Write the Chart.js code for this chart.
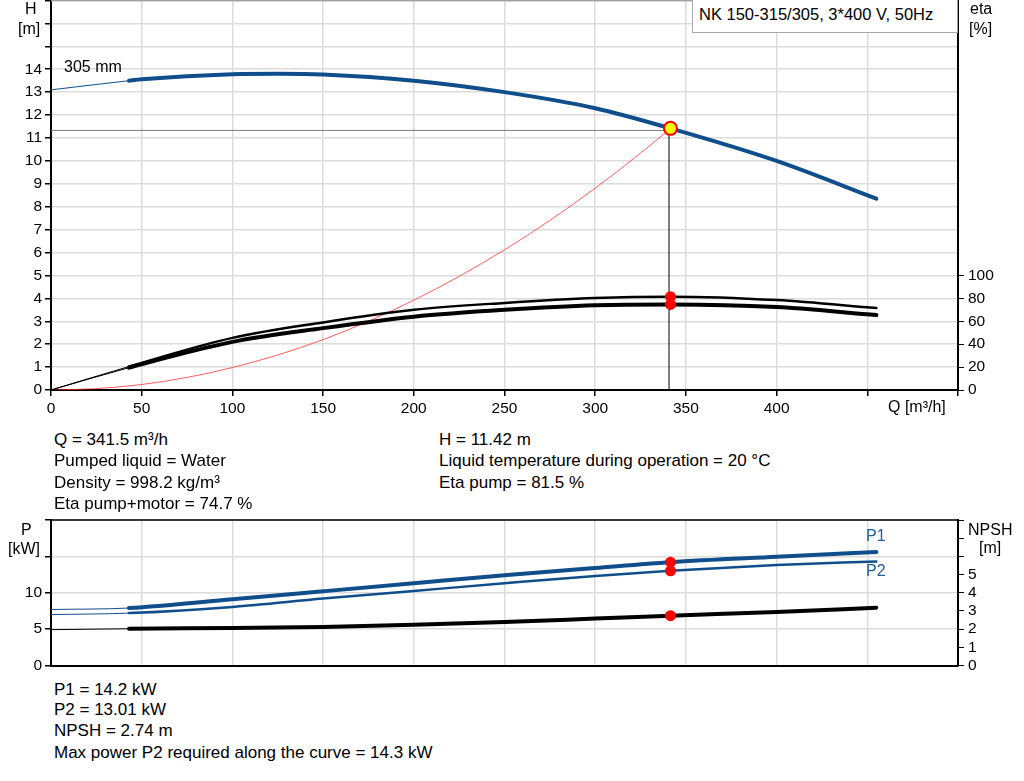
<!DOCTYPE html>
<html>
<head>
<meta charset="utf-8">
<script src="https://cdn.jsdelivr.net/npm/chart.js@4.4.1/dist/chart.umd.min.js"></script>
<style>
  body { margin: 0; background: #fff; font-family: "Liberation Sans", Arial, sans-serif; }
  #wrap { position: relative; width: 1024px; height: 781px; overflow: hidden; }
  canvas { position: absolute; left: 0; }
  .t16 { position: absolute; font-size: 16px; line-height: 16px; white-space: nowrap; color: #000; }
  .t17 { position: absolute; font-size: 17px; line-height: 17px; white-space: nowrap; color: #000; }
  #title { position: absolute; left: 692px; top: -2px; width: 264px; height: 33px;
           border: 1.5px solid #a8a8a8; background: #fff; }
</style>
</head>
<body>
<div id="wrap">
  <canvas id="qhChart" width="1024" height="433" style="top:-8px"></canvas>
  <canvas id="powerChart" width="1024" height="162" style="top:510px"></canvas>

  <div id="title"><span class="t16" style="left:6px;top:7px;font-size:16.5px">NK 150-315/305, 3*400 V, 50Hz</span></div>

  <div class="t16" style="left:25px;top:1px">H</div>
  <div class="t16" style="left:18px;top:21px">[m]</div>
  <div class="t16" style="left:970px;top:1px">eta</div>
  <div class="t16" style="left:969px;top:21px">[%]</div>
  <div class="t16" style="left:64px;top:59px">305 mm</div>
  <div class="t16" style="left:888px;top:399px">Q [m³/h]</div>

  <div class="t17" style="left:54px;top:431px">Q = 341.5 m³/h</div>
  <div class="t17" style="left:54px;top:452px">Pumped liquid = Water</div>
  <div class="t17" style="left:54px;top:474px">Density = 998.2 kg/m³</div>
  <div class="t17" style="left:54px;top:495px">Eta pump+motor = 74.7 %</div>
  <div class="t17" style="left:439px;top:431px">H = 11.42 m</div>
  <div class="t17" style="left:439px;top:452px">Liquid temperature during operation = 20 °C</div>
  <div class="t17" style="left:439px;top:474px">Eta pump = 81.5 %</div>

  <div class="t16" style="left:21px;top:522px">P</div>
  <div class="t16" style="left:8px;top:541px">[kW]</div>
  <div class="t16" style="left:968px;top:522px">NPSH</div>
  <div class="t16" style="left:979px;top:540px">[m]</div>
  <div class="t16" style="left:866px;top:528px;color:#1f5c99">P1</div>
  <div class="t16" style="left:866px;top:563px;color:#1f5c99">P2</div>

  <div class="t17" style="left:54px;top:681px">P1 = 14.2 kW</div>
  <div class="t17" style="left:54px;top:701px">P2 = 13.01 kW</div>
  <div class="t17" style="left:54px;top:722px">NPSH = 2.74 m</div>
  <div class="t17" style="left:54px;top:744px">Max power P2 required along the curve = 14.3 kW</div>
</div>

<script>
// flow values (m3/h) and the curves read from the sheet
const flowH = [0, 43, 50, 100, 125, 150, 200, 250, 300, 341.5, 400, 455];
const headVals = [13.1, 13.5, 13.56, 13.78, 13.8, 13.77, 13.5, 13.0, 12.3, 11.42, 10.0, 8.35];

const flowEta = [0, 43, 100, 150, 200, 250, 300, 341.5, 400, 455];
const etaPump = [0, 20.5, 45.5, 59, 70, 76, 80.3, 81.5, 78.5, 71.5];
const etaPumpMotor = [0, 19.5, 42, 54, 64, 70, 74, 74.7, 72.4, 65.4];

const flowSys = [0, 25, 50, 75, 100, 125, 150, 175, 200, 225, 250, 275, 300, 325, 341.5];
const sysHead = [0, 0.06, 0.24, 0.55, 0.98, 1.53, 2.2, 3.0, 3.92, 4.96, 6.12, 7.4, 8.81, 10.34, 11.42];

const flowP = [0, 43, 100, 150, 200, 250, 300, 341.5, 400, 455];
const p1Vals = [7.7, 7.9, 9.1, 10.2, 11.3, 12.4, 13.4, 14.2, 14.94, 15.6];
const p2Vals = [7.0, 7.2, 8.05, 9.2, 10.25, 11.3, 12.3, 13.01, 13.8, 14.3];
const npshVals = [1.97, 2.02, 2.06, 2.11, 2.24, 2.39, 2.58, 2.74, 2.94, 3.18];

// duty point
const dutyQ = 341.5;
const dutyH = 11.42;
const dutyEta = [81.5, 74.7];
const dutyP = [14.2, 13.01];
const dutyNpsh = 2.74;

const hTicksShown = 14;
const etaTicksShown = 100;
const qTicksShown = 400;
const thinUntil = 43;

const blue = '#104e8b';
const gridColor = '#dcdcdc';
const tickFont = { family: 'Liberation Sans', size: 15.5 };

const pts = (xs, ys) => xs.map((x, i) => ({ x: x, y: ys[i] }));

function curve(xs, ys, color, width, axis) {
    return {
        data: pts(xs, ys),
        yAxisID: axis,
        borderColor: color,
        borderWidth: width,
        pointRadius: 0,
        cubicInterpolationMode: 'monotone',
        borderCapStyle: 'round',
        segment: { borderWidth: c => c.p1.parsed.x <= thinUntil ? 1 : width }
    };
}

function dots(list, axis, fill, stroke, r) {
    return {
        data: list,
        yAxisID: axis,
        showLine: false,
        pointRadius: r,
        pointBackgroundColor: fill,
        pointBorderColor: stroke,
        pointBorderWidth: 2
    };
}

// draws the top edge of the plot frame
const frameTop = {
    id: 'frameTop',
    afterDatasetsDraw(chart, args, opts) {
        const { ctx, chartArea: a } = chart;
        ctx.save();
        ctx.strokeStyle = opts.color;
        ctx.lineWidth = opts.width;
        ctx.beginPath();
        ctx.moveTo(a.left, a.top);
        ctx.lineTo(a.right, a.top);
        ctx.stroke();
        ctx.restore();
    }
};

const noPad = s => { s.paddingTop = 0; s.paddingBottom = 0; s.paddingLeft = 0; s.paddingRight = 0; };

function xAxis(height, labels) {
    return {
        type: 'linear', min: 0, max: 500,
        afterFit: s => { s.height = height; noPad(s); },
        ticks: {
            display: labels, stepSize: 50, padding: 3, color: '#000', font: tickFont,
            maxRotation: 0, autoSkip: false,
            callback: v => v <= qTicksShown ? v : ''
        },
        grid: { color: gridColor, lineWidth: 1.5, tickLength: 6, tickColor: '#000', drawTicks: labels },
        border: { color: '#000', width: 2 }
    };
}

function leftAxis(max, step, shownMax) {
    return {
        type: 'linear', position: 'left', min: 0, max: max,
        afterFit: s => { s.width = 51; noPad(s); },
        ticks: {
            stepSize: step, padding: 3, color: '#000', font: tickFont, autoSkip: false,
            callback: v => v <= shownMax ? v : ''
        },
        grid: { color: gridColor, lineWidth: 1.5, tickLength: 6, tickColor: '#000' },
        border: { color: '#000', width: 2 }
    };
}

function rightAxis(max, step, shownMax, filterTicks) {
    return {
        type: 'linear', position: 'right', min: 0, max: max,
        afterFit: s => { s.width = 66; noPad(s); },
        afterBuildTicks: s => { if (filterTicks) s.ticks = s.ticks.filter(t => t.value <= shownMax); },
        ticks: {
            stepSize: step, padding: 4, color: '#000', font: tickFont, autoSkip: false,
            callback: v => v <= shownMax ? v : ''
        },
        grid: { drawOnChartArea: false, tickLength: 6, tickColor: '#000' },
        border: { color: '#000', width: 2 }
    };
}

const qhChart = new Chart(document.getElementById('qhChart'), {
    type: 'line',
    data: {
        datasets: [
            dots([{ x: dutyQ, y: dutyH }], 'yH', '#ffff00', '#ff0000', 6.5),
            dots(dutyEta.map(e => ({ x: dutyQ, y: e })), 'yEta', '#ff0000', '#ff0000', 4.5),
            curve(flowH, headVals, blue, 4, 'yH'),
            curve(flowEta, etaPump, '#000', 2.5, 'yEta'),
            curve(flowEta, etaPumpMotor, '#000', 4, 'yEta'),
            {
                data: pts([340.7, 340.7], [0, dutyH]), yAxisID: 'yH',
                borderColor: '#000', borderWidth: 1, pointRadius: 0
            },
            {
                data: pts([0, 340.7], [11.33, 11.33]), yAxisID: 'yH',
                borderColor: '#7a7a7a', borderWidth: 1, pointRadius: 0
            },
            {
                data: pts(flowSys, sysHead), yAxisID: 'yH',
                borderColor: 'rgba(255,40,40,0.75)', borderWidth: 1, pointRadius: 0,
                cubicInterpolationMode: 'monotone'
            }
        ]
    },
    options: {
        responsive: false,
        animation: false,
        layout: { padding: { top: 1, left: 0, right: 0, bottom: 0 } },
        plugins: {
            legend: { display: false },
            tooltip: { enabled: false },
            frameTop: { color: '#a0a0a0', width: 1.5 }
        },
        scales: {
            x: xAxis(35, true),
            yH: leftAxis(17, 1, hTicksShown),
            yEta: rightAxis(340, 20, etaTicksShown, true)
        }
    },
    plugins: [frameTop]
});

const powerChart = new Chart(document.getElementById('powerChart'), {
    type: 'line',
    data: {
        datasets: [
            dots(dutyP.map(p => ({ x: dutyQ, y: p })), 'yP', '#ff0000', '#ff0000', 4.5),
            dots([{ x: dutyQ, y: dutyNpsh }], 'yN', '#ff0000', '#ff0000', 4.5),
            curve(flowP, p1Vals, blue, 4, 'yP'),
            curve(flowP, p2Vals, blue, 2.5, 'yP'),
            curve(flowP, npshVals, '#000', 4, 'yN')
        ]
    },
    options: {
        responsive: false,
        animation: false,
        layout: { padding: { top: 10, left: 0, right: 0, bottom: 0 } },
        plugins: {
            legend: { display: false },
            tooltip: { enabled: false },
            frameTop: { color: '#000', width: 1.5 }
        },
        scales: {
            x: xAxis(5, false),
            yP: leftAxis(20, 5, 10),
            yN: rightAxis(8, 1, 5, false)
        }
    },
    plugins: [frameTop]
});
</script>
</body>
</html>
